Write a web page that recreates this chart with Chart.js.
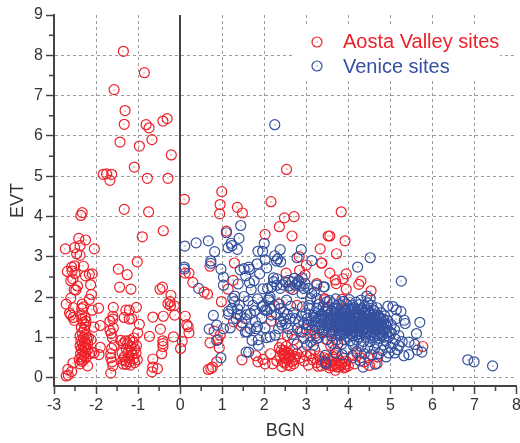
<!DOCTYPE html>
<html>
<head>
<meta charset="utf-8">
<style>
  html, body { margin: 0; padding: 0; background: #fff; overflow: hidden; }
  #box { width: 520px; height: 443px; overflow: hidden; }
</style>
<script src="https://cdn.jsdelivr.net/npm/chart.js@4/dist/chart.umd.min.js"></script>
</head>
<body>
<div id="box"><canvas id="chart" width="523" height="443"></canvas></div>
<script>
// values as [BGN, EVT]
const aostaSites = [
  [-1.35,8.1],[-0.85,7.57],[-1.57,7.15],[-1.31,6.63],[-1.33,6.29],[-0.81,6.28],[-0.74,6.2],[-0.41,6.37],[-0.31,6.43],
  [-1.43,5.85],[-0.97,5.75],[-0.67,5.91],[-0.21,5.53],[-1.09,5.23],[-1.83,5.05],[-1.75,5.06],[-1.63,5.05],[-1.67,4.9],
  [-0.78,4.95],[-0.29,4.95],[0.1,4.43],[0.99,4.62],[0.95,4.3],[0.94,4.07],[1.36,4.23],[1.48,4.09],[2.16,4.37],
  [-2.33,4.1],[-2.36,4.03],[-1.33,4.18],[-0.75,4.12],[-0.4,3.65],[-0.9,3.5],[-2.41,3.46],[-2.25,3.42],[-2.73,3.2],
  [-2.51,3.23],[-2.38,3.28],[-2.46,3.08],[-2.38,3.04],[-2.04,3.2],[-1.02,2.88],[-1.47,2.7],[-1.26,2.56],[-2.3,2.77],
  [-2.58,2.75],[-2.51,2.78],[-2.68,2.64],[-2.57,2.65],[-2.5,2.59],[-2.25,2.53],[-2.16,2.57],[-2.09,2.58],[-2.55,2.45],
  [-2.6,2.41],[-2.44,2.28],[-2.13,2.31],[-2.52,2.19],[-2.48,2.18],[-2.11,2.07],[-1.44,2.25],[-1.17,2.2],[-0.48,2.2],
  [-0.42,2.25],[-0.22,2.05],[-2.6,1.98],[-2.16,1.95],[-2.71,1.83],[-2.33,1.83],[-2.3,1.76],[-2.34,1.72],[-2.54,1.74],
  [-2.09,1.68],[-1.94,1.73],[-1.59,1.75],[-1.04,1.75],[-1.29,1.68],[-1.21,1.68],[-0.29,1.84],[-0.24,1.89],[-0.14,1.79],
  [-0.23,1.79],[-0.13,1.56],[-0.4,1.53],[-0.65,1.51],[0.12,1.53],[0.16,1.32],[0.21,1.12],[0.19,1.27],[-2.63,1.61],
  [-2.6,1.56],[-2.54,1.5],[-2.52,1.43],[-2.34,1.56],[-2.26,1.49],[-2.34,1.46],[-2.24,1.41],[-2.3,1.37],[-2.25,1.32],
  [-1.6,1.53],[-1.67,1.41],[-1.6,1.46],[-1.59,1.24],[-1.67,1.18],[-1.64,1.1],[-1.61,0.99],[-1.33,1.5],[-1.21,1.46],
  [-1.15,1.47],[-0.97,1.33],[-2.05,1.26],[-1.9,1.3],[-0.47,1.21],[-1.01,1.12],[-0.73,1.03],[-0.16,1.02],[0.05,0.91],
  [0.01,0.73],[-0.41,0.92],[-0.41,0.85],[-0.41,0.78],[-0.44,0.6],[-0.65,0.47],[-0.65,0.27],[-0.67,0.15],[-0.54,0.23],
  [-2.71,0.05],[-2.66,0.07],[-2.67,0.21],[-2.58,0.16],[-2.55,0.37],[-2.38,0.35],[-2.34,0.41],[-2.2,0.3],[-1.9,0.76],
  [-1.93,0.58],[-2.1,0.64],
  [-2.35,1.25],[-2.28,1.2],[-2.33,1.12],[-2.25,1.08],[-2.38,1.05],[-2.3,1.0],[-2.22,0.98],[-2.36,0.93],[-2.28,0.9],
  [-2.33,0.85],[-2.24,0.84],[-2.38,0.8],[-2.3,0.78],[-2.26,0.74],[-2.35,0.72],[-2.2,0.7],[-2.32,0.66],[-2.25,0.62],
  [-2.37,0.6],[-2.15,0.6],[-2.29,0.56],[-2.34,0.52],[-2.24,0.5],[-2.4,0.46],[-2.3,0.44],[-2.18,1.0],[-2.12,0.95],
  [-2.2,0.85],[-2.05,0.62],
  [-1.65,0.6],[-1.65,0.5],[-1.62,0.4],[-1.6,0.3],[-1.65,0.12],[-1.57,0.81],[-1.63,0.73],[-1.41,0.93],[-1.35,0.34],
  [-1.38,0.62],[-1.33,0.52],[-1.36,0.45],[-1.28,0.72],[-1.24,0.62],[-1.3,0.42],[-1.22,0.5],[-1.18,0.78],[-1.16,0.68],
  [-1.2,0.4],[-1.14,0.58],[-1.1,0.48],[-1.25,0.85],[-1.08,0.72],[-1.12,0.88],[-1.18,0.32],[-1.05,0.62],[-1.04,0.8],
  [-1.28,0.34],[-1.08,0.38],[-1.02,0.45],[-1.3,0.92],[-1.2,0.93],[-1.1,0.99],[-1.35,0.85],
  [2.48,3.97],[2.71,4.0],[2.36,3.75],[2.66,3.52],[2.02,3.56],[1.1,3.64],[3.33,3.2],[3.52,3.52],[3.36,2.85],[2.83,3.01],
  [1.29,2.85],[0.71,2.77],[0.12,2.6],[0.21,2.6],[0.3,2.37],[0.57,2.13],[0.65,2.08],[1.26,2.42],[1.14,2.2],[0.98,1.89],
  [3.0,2.8],[2.84,2.67],[2.97,2.55],[2.52,2.6],[3.25,2.34],[2.62,2.22],[3.43,1.97],[2.78,1.8],[2.36,1.83],[2.17,1.41],
  [1.27,1.39],[1.45,1.29],[0.81,1.16],[0.95,1.06],[0.71,0.87],[0.9,0.95],[0.93,0.75],[1.47,0.45],[1.85,0.4],[0.73,0.23],
  [0.67,0.21],[0.77,0.27],[0.87,0.4],[2.02,0.35],[1.97,0.46],
  [2.53,5.17],[3.83,4.12],[3.56,3.52],[3.92,3.4],[3.72,3.08],[3.37,2.85],[3.56,2.6],[3.95,2.58],[3.87,2.46],[3.69,2.43],
  [3.71,2.34],[4.25,2.32],[4.3,2.4],[4.54,2.16],[3.95,2.2],[3.85,1.95],[3.44,1.94],[3.49,1.72],[5.77,0.78],[4.7,0.52],
  [4.68,0.36],[4.48,0.5],[4.5,0.31],[3.93,0.27],[3.69,0.19],
  [2.36,0.75],[2.42,0.85],[2.48,0.68],[2.52,0.78],[2.58,0.62],[2.44,0.6],[2.38,0.55],[2.5,0.5],[2.56,0.45],[2.62,0.55],
  [2.68,0.7],[2.72,0.45],[2.78,0.6],[2.46,0.4],[2.55,0.32],[2.62,0.3],[2.42,0.28],[2.3,0.42],[2.7,0.35],[2.85,0.5],
  [2.9,0.65],[2.95,0.42],[3.0,0.55],[3.05,0.32],[3.1,0.6],[3.15,0.45],[3.2,0.7],[3.25,0.38],[3.3,0.55],[3.36,0.3],
  [3.42,0.5],[3.5,0.38],[3.55,0.25],[3.6,0.42],[3.65,0.3],[3.72,0.55],[3.78,0.28],[3.85,0.38],[3.9,0.25],[3.95,0.42],
  [4.0,0.3],[3.68,0.7],[3.58,0.8],[3.75,0.85],[3.48,0.95],[3.3,1.0],[3.2,1.1],[3.4,1.15],[3.6,1.1],[2.7,0.95],
  [2.55,1.05],[2.85,1.15],[3.0,1.2],[3.1,1.05],[4.1,0.55],[4.2,0.62],[4.3,0.5],[4.38,0.4],[4.15,0.35],[2.15,0.6],
  [2.2,0.35],[1.8,0.55],
  [3.47,0.33],[3.52,0.46],[3.57,0.31],[3.63,0.52],[3.68,0.36],[3.74,0.27],[3.79,0.44],[3.83,0.31],[3.88,0.49],[3.93,0.34],
  [3.41,0.41],[3.33,0.45],[3.28,0.29],[2.47,0.57],[2.53,0.63],[2.41,0.69],[2.59,0.51],[2.49,0.37],[2.66,0.41],[2.74,0.53]
];

const veniceSites = [
  [2.25,6.28],[4.52,2.98],[4.22,2.75],[5.26,2.4],[3.41,2.26],[4.44,2.03],[4.52,1.97],[4.94,1.78],[5.06,1.77],[5.14,1.69],
  [5.25,1.65],[5.7,1.38],[5.14,1.47],[5.33,1.43],[5.35,1.35],[5.62,1.1],[5.44,0.89],[5.58,0.83],[5.64,0.69],[5.75,0.64],
  [5.44,0.58],[5.32,0.55],[4.9,0.52],[6.84,0.45],[6.99,0.4],[7.43,0.3],[4.35,0.27],[4.64,0.34],[3.47,0.36],
  [1.44,3.78],[1.1,3.6],[1.4,3.46],[0.67,3.4],[0.38,3.35],[0.11,3.27],[0.82,3.13],[1.14,3.23],[1.21,3.34],[1.23,3.28],
  [1.36,3.19],[2.0,3.34],[1.85,3.14],[1.96,3.14],[2.38,3.18],[2.88,3.18],[2.25,3.03],[2.32,2.95],[2.39,2.88],[2.29,2.9],
  [2.78,2.98],[3.13,2.91],[2.02,2.93],[1.83,2.83],[2.06,2.73],[0.73,2.9],[0.73,2.84],[0.97,2.7],[0.1,2.75],[0.1,2.7],
  [1.43,2.68],[1.52,2.71],[1.63,2.75],[1.65,2.69],[1.89,2.58],[1.56,2.53],[1.03,2.5],[1.65,2.36],[1.38,2.33],[1.03,2.3],
  [1.69,2.19],[0.44,2.22],[1.3,2.03],[1.25,1.97],[1.29,1.89],[1.52,2.02],[1.84,1.96],[2.11,1.97],[1.41,1.8],[1.73,1.8],
  [1.95,1.77],[2.06,1.67],[1.15,1.65],[1.23,1.72],[1.15,1.58],[1.36,1.58],[1.43,1.55],[1.67,1.6],[1.59,1.57],[1.55,1.47],
  [0.79,1.55],[1.79,1.39],[1.84,1.27],[1.67,1.22],[0.87,1.31],[0.69,1.21],[1.03,1.22],[1.19,1.24],[1.55,1.14],[1.59,1.14],
  [2.02,1.24],[1.81,1.22],[2.05,1.0],[1.86,0.95],[1.71,0.93],[1.86,0.81],[1.63,0.64],[1.57,0.64],[0.97,0.5],[0.87,0.93],
  [2.22,2.48],[2.3,2.46],[2.22,2.39],[2.3,2.3],[2.38,2.22],[2.18,2.26],[2.08,2.22],[2.5,2.38],[2.58,2.42],[2.66,2.38],
  [2.74,2.3],[2.82,2.42],[2.9,2.48],[2.82,2.38],[2.94,2.22],[2.9,2.09],[3.13,2.09],[3.25,2.3],[3.43,2.26],[3.19,2.13],
  [2.14,2.01],[2.1,1.93],[1.98,1.8],[2.02,1.68],[2.14,1.72],[2.34,1.84],[2.38,1.72],[2.46,1.64],[2.46,1.47],[2.62,1.47],
  [2.74,1.47],[2.82,1.39],[2.94,1.35],[3.06,1.8],[3.1,1.97],[3.25,1.97],[3.49,1.89],[3.25,1.72],[3.37,1.56],[3.49,1.64],
  [3.17,1.56],[3.02,1.31],[2.38,1.39],[2.42,1.31],[2.34,1.22],[2.26,1.06],[2.14,1.02],[2.66,1.08],[2.9,1.14],[2.94,0.98],
  [3.1,0.89],[2.78,0.84],[3.25,0.98],[3.02,0.81],[3.17,0.81],[3.45,0.4],[3.45,0.56],
  [2.72,2.47],[2.78,2.34],[2.86,2.28],[2.97,2.34],[2.68,2.19],[2.59,2.28],[2.44,2.31],[3.05,2.22],[3.07,1.72],[2.99,1.61],
  [2.88,1.53],[2.7,1.62],[2.55,1.58],[2.91,1.76],[3.31,1.83],[3.02,1.47],
  [1.62,1.91],[1.37,1.71],[1.77,1.67],[1.94,1.49],[2.17,1.56],[2.24,1.79],[1.47,1.37],[1.33,1.47],[1.97,2.21],[1.76,2.41],
  [2.57,1.22],[2.29,1.57],[2.51,1.34],[2.79,1.22],[2.63,1.78],[2.53,1.93],
  // dense mass around BGN 4, EVT 1.4
  [3.55,1.92],[3.7,1.96],[3.88,1.9],[4.02,1.94],[4.18,1.88],[4.3,1.93],[4.46,1.86],[3.62,1.84],[3.78,1.82],[3.95,1.83],
  [4.1,1.8],[4.26,1.82],[4.38,1.78],[4.55,1.8],[4.68,1.74],[3.4,1.76],[3.52,1.75],[3.68,1.73],[3.84,1.74],[3.99,1.72],
  [4.14,1.7],[4.32,1.72],[4.48,1.68],[4.62,1.66],[4.78,1.62],[3.3,1.66],[3.44,1.66],[3.6,1.65],[3.74,1.63],[3.9,1.65],
  [4.05,1.62],[4.2,1.63],[4.36,1.6],[4.52,1.6],[4.7,1.56],[4.86,1.54],[3.22,1.5],[3.36,1.48],[3.5,1.56],[3.66,1.54],
  [3.82,1.56],[3.96,1.53],[4.12,1.55],[4.28,1.52],[4.42,1.54],[4.58,1.5],[4.76,1.47],[4.94,1.42],[3.12,1.42],[3.28,1.4],
  [3.44,1.44],[3.58,1.46],[3.74,1.44],[3.88,1.46],[4.04,1.44],[4.18,1.46],[4.34,1.44],[4.5,1.42],[4.66,1.42],[4.84,1.38],
  [5.02,1.32],[3.05,1.32],[3.2,1.3],[3.36,1.32],[3.52,1.35],[3.68,1.36],[3.82,1.34],[3.98,1.36],[4.12,1.34],[4.28,1.36],
  [4.44,1.33],[4.6,1.32],[4.76,1.3],[4.92,1.26],[5.1,1.2],[3.14,1.2],[3.3,1.22],[3.46,1.24],[3.62,1.26],[3.76,1.24],
  [3.92,1.26],[4.06,1.23],[4.22,1.25],[4.38,1.22],[4.54,1.24],[4.7,1.2],[4.86,1.16],[5.02,1.12],[5.2,1.05],[3.38,1.12],
  [3.54,1.14],[3.7,1.16],[3.86,1.14],[4.0,1.16],[4.16,1.13],[4.32,1.15],[4.48,1.12],[4.64,1.1],[4.8,1.06],[4.96,1.02],
  [5.12,0.96],[5.28,0.9],[3.24,1.05],[3.6,1.04],[3.8,1.05],[3.96,1.03],[4.1,1.05],[4.26,1.02],[4.42,1.03],[4.58,1.0],
  [4.74,0.98],[4.9,0.92],[5.06,0.86],[5.2,0.8],[3.5,0.95],[3.72,0.94],[3.9,0.95],[4.04,0.92],[4.2,0.94],[4.36,0.9],
  [4.52,0.9],[4.68,0.86],[4.84,0.82],[5.0,0.76],[5.16,0.7],[3.62,0.86],[3.84,0.84],[4.12,0.8],[4.3,0.78],[4.46,0.75],
  [4.62,0.72],[4.8,0.68],[4.96,0.62],[5.1,0.62],[3.95,0.72],[4.2,0.66],[4.38,0.6],[4.55,0.58],[4.72,0.6],[3.7,0.62],
  [4.28,0.42],[4.1,0.5],[3.85,0.58],
  // core, second pass over the same area
  [3.73,1.71],[3.81,1.67],[3.87,1.59],[3.93,1.69],[4.01,1.57],[4.07,1.67],[4.15,1.61],[4.23,1.57],[4.29,1.67],[4.37,1.51],
  [4.41,1.63],[4.49,1.57],[4.55,1.47],[4.61,1.57],[4.67,1.49],[3.77,1.51],[3.83,1.41],[3.89,1.51],[3.95,1.43],[4.01,1.49],
  [4.07,1.39],[4.13,1.49],[4.21,1.41],[4.25,1.49],[4.31,1.39],[4.39,1.47],[4.45,1.39],[4.51,1.49],[4.57,1.37],[4.63,1.43],
  [4.71,1.37],[3.71,1.41],[3.65,1.49],[3.59,1.39],[3.53,1.47],[3.47,1.37],[3.41,1.47],[3.75,1.31],[3.81,1.27],[3.87,1.39],
  [3.93,1.31],[3.99,1.27],[4.05,1.33],[4.09,1.27],[4.17,1.37],[4.23,1.31],[4.3,1.27],[4.36,1.33],[4.42,1.27],[4.49,1.35],
  [4.55,1.29],[4.61,1.25],[4.67,1.31],[4.73,1.25],[4.79,1.33],[3.69,1.29],[3.63,1.19],[3.57,1.31],[3.49,1.29],[3.43,1.19],
  [3.83,1.19],[3.89,1.21],[3.95,1.17],[4.03,1.19],[4.11,1.17],[4.17,1.21],[4.25,1.17],[4.33,1.21],[4.41,1.15],[4.47,1.19],
  [4.57,1.15],[4.63,1.19],[4.73,1.13],[4.83,1.22],[4.91,1.11],[3.79,1.11],[3.89,1.09],[4.07,1.09],[4.19,1.07],[4.29,1.09],
  [4.39,1.09],[4.53,1.07],[4.61,1.03],[4.69,1.05],[4.77,1.11],[4.85,1.01],[4.97,1.15],[3.35,1.57],[3.29,1.47],[3.21,1.39],
  [3.57,1.6],[3.71,1.6],[3.85,1.63],[4.11,1.74],[4.23,1.69],[4.41,1.69],[4.59,1.69],[4.73,1.52],[4.83,1.46],[4.89,1.33]
];

const xTicks = [-3, -2, -1, 0, 1, 2, 3, 4, 5, 6, 7, 8];
const yTicks = [0, 1, 2, 3, 4, 5, 6, 7, 8, 9];
const xMinorTicks = [-2.5, -1.5, -0.5, 0.5, 1.5, 2.5, 3.5, 4.5, 5.5, 6.5, 7.5];
const yMinorTicks = [0.5, 1.5, 2.5, 3.5, 4.5, 5.5, 6.5, 7.5, 8.5];

const RED = '#ee2029';
const BLUE = '#34509f';
const AXIS = '#444444';

const extras = {
    id: 'extras',
    beforeDatasetsDraw(chart) {
        const { ctx, scales, chartArea } = chart;
        const x0 = Math.round(scales.x.getPixelForValue(0));
        ctx.save();
        ctx.strokeStyle = AXIS;
        ctx.lineWidth = 2;
        ctx.beginPath();
        ctx.moveTo(x0, chartArea.top);
        ctx.lineTo(x0, chartArea.bottom);
        ctx.stroke();

        // minor ticks
        ctx.lineWidth = 1.5;
        ctx.beginPath();
        xMinorTicks.forEach(v => {
            const p = scales.x.getPixelForValue(v);
            ctx.moveTo(p, chartArea.bottom);
            ctx.lineTo(p, chartArea.bottom + 5);
        });
        yMinorTicks.forEach(v => {
            const p = scales.y.getPixelForValue(v);
            ctx.moveTo(chartArea.left, p);
            ctx.lineTo(chartArea.left - 5, p);
        });
        ctx.stroke();

        // white patch behind the legend
        ctx.fillStyle = '#fff';
        ctx.fillRect(292, 24, 208, 55);
        ctx.restore();
    },
    afterDatasetsDraw(chart) {
        // tiny dot in the middle of each ring
        const { ctx } = chart;
        ctx.save();
        chart.data.datasets.forEach((ds, i) => {
            ctx.fillStyle = ds.borderColor;
            chart.getDatasetMeta(i).data.forEach(pt => {
                ctx.fillRect(Math.round(pt.x) - 0.5, Math.round(pt.y) - 0.5, 1, 1);
            });
        });
        ctx.restore();
    },
    afterDraw(chart) {
        const { ctx } = chart;
        ctx.save();
        ctx.font = '20px "Liberation Sans"';
        ctx.textBaseline = 'alphabetic';
        ctx.lineWidth = 1.2;
        [[RED, 'Aosta Valley sites', 42, 48], [BLUE, 'Venice sites', 66, 73]].forEach(row => {
            ctx.strokeStyle = row[0];
            ctx.fillStyle = row[0];
            ctx.beginPath();
            ctx.arc(317, row[2], 5, 0, Math.PI * 2);
            ctx.stroke();
            ctx.fillRect(316.5, row[2] - 0.5, 1, 1);
            ctx.fillText(row[1], 343, row[3]);
        });
        ctx.restore();
    }
};

function tickFont() {
    return { family: '"Liberation Sans"', size: 16 };
}

new Chart(document.getElementById('chart'), {
    type: 'scatter',
    data: {
        datasets: [
            {
                label: 'Aosta Valley sites',
                data: aostaSites.map(p => ({ x: p[0], y: p[1] })),
                pointStyle: 'circle',
                pointRadius: 5,
                borderWidth: 1.2,
                borderColor: RED,
                backgroundColor: 'rgba(0,0,0,0)',
                order: 2
            },
            {
                label: 'Venice sites',
                data: veniceSites.map(p => ({ x: p[0], y: p[1] })),
                pointStyle: 'circle',
                pointRadius: 5,
                borderWidth: 1.2,
                borderColor: BLUE,
                backgroundColor: 'rgba(0,0,0,0)',
                order: 1
            }
        ]
    },
    options: {
        responsive: false,
        animation: false,
        layout: { autoPadding: false, padding: { left: 0, right: 0, top: 15, bottom: 0 } },
        plugins: { legend: { display: false }, tooltip: { enabled: false } },
        scales: {
            x: {
                type: 'linear',
                min: -3,
                max: 8,
                afterBuildTicks: s => { s.ticks = xTicks.map(v => ({ value: v })); },
                afterFit: s => { s.height = 57; },
                grid: {
                    color: c => (c.tick && (c.tick.value === -3 || c.tick.value === 0 || c.tick.value === 8)) ? 'rgba(0,0,0,0)' : '#9a9a9a',
                    tickColor: AXIS,
                    tickWidth: 1.5,
                    tickLength: 8,
                    lineWidth: 1
                },
                border: { color: AXIS, width: 2, dash: [3, 3] },
                ticks: {
                    autoSkip: false,
                    maxRotation: 0,
                    color: '#333',
                    padding: 2,
                    font: tickFont()
                },
                title: {
                    display: true,
                    text: 'BGN',
                    color: '#333',
                    padding: { top: 2, bottom: 1 },
                    font: { family: '"Liberation Sans"', size: 18 }
                }
            },
            y: {
                type: 'linear',
                min: -0.2,
                max: 9,
                afterBuildTicks: s => { s.ticks = yTicks.map(v => ({ value: v })); },
                afterFit: s => { s.width = 54; },
                grid: {
                    color: c => (c.tick && c.tick.value === 9) ? 'rgba(0,0,0,0)' : '#9a9a9a',
                    tickColor: AXIS,
                    tickWidth: 1.5,
                    tickLength: 8,
                    lineWidth: 1
                },
                border: { color: AXIS, width: 2, dash: [3, 3] },
                ticks: {
                    autoSkip: false,
                    color: '#333',
                    padding: 3,
                    font: tickFont()
                },
                title: {
                    display: true,
                    text: 'EVT',
                    color: '#333',
                    padding: { top: 7, bottom: 0 },
                    font: { family: '"Liberation Sans"', size: 18 }
                }
            }
        }
    },
    plugins: [extras]
});
</script>
</body>
</html>
